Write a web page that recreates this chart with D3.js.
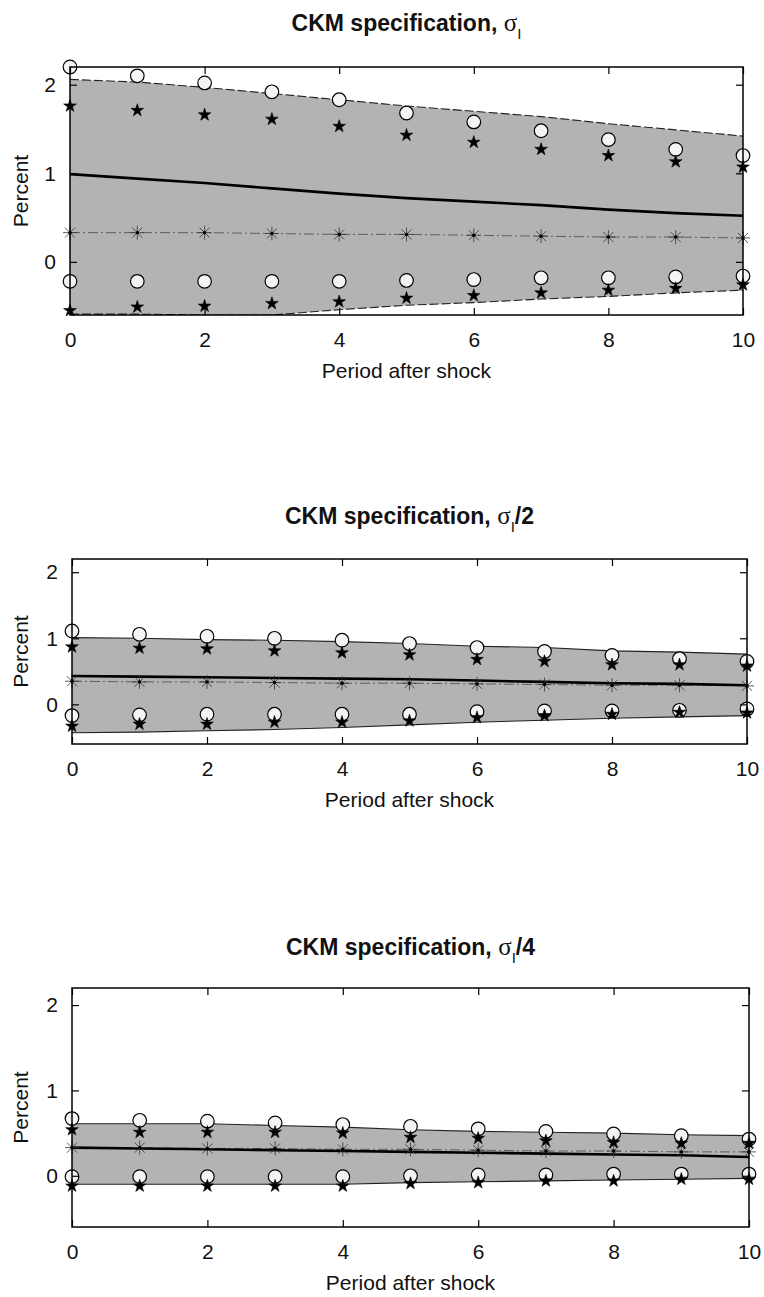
<!DOCTYPE html>
<html>
<head>
<meta charset="utf-8">
<script src="https://cdn.jsdelivr.net/npm/d3@7"></script>
<style>
  html, body { margin: 0; padding: 0; background: #fff; }
  svg { display: block; }
  text { font-family: "Liberation Sans", Arial, Helvetica, sans-serif; fill: #111; }
</style>
</head>
<body>
<svg id="chart" width="764" height="1297"></svg>
<script>
// Impulse responses (percent) over periods after the shock
const periods = [0, 1, 2, 3, 4, 5, 6, 7, 8, 9, 10];
const xTicks = [0, 2, 4, 6, 8, 10];
const yTicks = [0, 1, 2];
const yDomain = [-0.6, 2.2];

const titleSuffixes = ["", "/2", "/4"];

// sigma_I
const p1BandUpper   = [2.06, 2.03, 1.97, 1.90, 1.83, 1.76, 1.70, 1.64, 1.56, 1.49, 1.42];
const p1BandLower   = [-0.59, -0.59, -0.60, -0.60, -0.54, -0.49, -0.46, -0.42, -0.39, -0.35, -0.32];
const p1Mean        = [0.99, 0.94, 0.89, 0.83, 0.77, 0.72, 0.68, 0.64, 0.59, 0.55, 0.52];
const p1Asterisk    = [0.33, 0.33, 0.33, 0.32, 0.31, 0.31, 0.30, 0.29, 0.28, 0.28, 0.27];
const p1CircleUpper = [2.20, 2.10, 2.02, 1.92, 1.83, 1.68, 1.58, 1.48, 1.38, 1.27, 1.20];
const p1StarUpper   = [1.76, 1.71, 1.66, 1.61, 1.53, 1.43, 1.35, 1.27, 1.20, 1.13, 1.07];
const p1CircleLower = [-0.22, -0.22, -0.22, -0.22, -0.22, -0.21, -0.20, -0.18, -0.18, -0.17, -0.16];
const p1StarLower   = [-0.55, -0.51, -0.50, -0.47, -0.45, -0.41, -0.38, -0.35, -0.32, -0.30, -0.26];

// sigma_I / 2
const p2BandUpper   = [1.01, 1.00, 0.98, 0.97, 0.95, 0.92, 0.88, 0.86, 0.81, 0.79, 0.76];
const p2BandLower   = [-0.43, -0.42, -0.40, -0.38, -0.35, -0.31, -0.27, -0.24, -0.21, -0.19, -0.17];
const p2Mean        = [0.43, 0.42, 0.41, 0.40, 0.39, 0.38, 0.36, 0.34, 0.32, 0.31, 0.29];
const p2Asterisk    = [0.35, 0.34, 0.34, 0.33, 0.32, 0.32, 0.31, 0.30, 0.29, 0.29, 0.28];
const p2CircleUpper = [1.11, 1.06, 1.03, 1.00, 0.97, 0.92, 0.86, 0.80, 0.74, 0.69, 0.65];
const p2StarUpper   = [0.87, 0.85, 0.84, 0.81, 0.78, 0.75, 0.68, 0.65, 0.60, 0.60, 0.58];
const p2CircleLower = [-0.17, -0.16, -0.15, -0.15, -0.15, -0.15, -0.11, -0.10, -0.10, -0.09, -0.07];
const p2StarLower   = [-0.33, -0.30, -0.30, -0.27, -0.27, -0.25, -0.20, -0.17, -0.15, -0.12, -0.13];

// sigma_I / 4
const p3BandUpper   = [0.61, 0.61, 0.61, 0.59, 0.57, 0.54, 0.52, 0.51, 0.50, 0.48, 0.47];
const p3BandLower   = [-0.10, -0.10, -0.10, -0.10, -0.10, -0.08, -0.07, -0.06, -0.05, -0.04, -0.03];
const p3Mean        = [0.33, 0.32, 0.31, 0.30, 0.29, 0.28, 0.27, 0.26, 0.25, 0.24, 0.22];
const p3Asterisk    = [0.33, 0.33, 0.32, 0.32, 0.31, 0.31, 0.30, 0.29, 0.29, 0.28, 0.28];
const p3CircleUpper = [0.67, 0.65, 0.64, 0.62, 0.60, 0.58, 0.55, 0.52, 0.49, 0.47, 0.43];
const p3StarUpper   = [0.54, 0.51, 0.51, 0.51, 0.50, 0.45, 0.44, 0.41, 0.39, 0.38, 0.38];
const p3CircleLower = [-0.01, -0.01, -0.01, -0.01, -0.01, 0.00, 0.01, 0.01, 0.02, 0.02, 0.02];
const p3StarLower   = [-0.12, -0.12, -0.12, -0.12, -0.12, -0.09, -0.08, -0.06, -0.06, -0.04, -0.04];

const panels = [
  { frame: { left: 70, right: 743, top: 67,  bottom: 315 },  titleY: 31,  suffix: titleSuffixes[0], edgeDash: "9,3",
    bandUpper: p1BandUpper, bandLower: p1BandLower, mean: p1Mean, asterisk: p1Asterisk,
    circleUpper: p1CircleUpper, starUpper: p1StarUpper, circleLower: p1CircleLower, starLower: p1StarLower },
  { frame: { left: 72, right: 747, top: 559, bottom: 744 },  titleY: 524, suffix: titleSuffixes[1], edgeDash: null,
    bandUpper: p2BandUpper, bandLower: p2BandLower, mean: p2Mean, asterisk: p2Asterisk,
    circleUpper: p2CircleUpper, starUpper: p2StarUpper, circleLower: p2CircleLower, starLower: p2StarLower },
  { frame: { left: 72, right: 749, top: 988, bottom: 1227 }, titleY: 955, suffix: titleSuffixes[2], edgeDash: null,
    bandUpper: p3BandUpper, bandLower: p3BandLower, mean: p3Mean, asterisk: p3Asterisk,
    circleUpper: p3CircleUpper, starUpper: p3StarUpper, circleLower: p3CircleLower, starLower: p3StarLower }
];

const svg = d3.select("#chart");
const tickLen = 7;
const starSize = 50;   // d3.symbolStar area, outer radius ~6.7px
const circleR = 6.8;
const astR = 7;

panels.forEach((p, i) => {
  const f = p.frame;
  const x = d3.scaleLinear().domain([0, 10]).range([f.left, f.right]);
  const y = d3.scaleLinear().domain(yDomain).range([f.bottom, f.top]);
  const g = svg.append("g");

  const clipId = "clip" + i;
  svg.append("clipPath").attr("id", clipId)
    .append("rect").attr("x", f.left).attr("y", f.top)
    .attr("width", f.right - f.left).attr("height", f.bottom - f.top);

  const plot = g.append("g").attr("clip-path", `url(#${clipId})`);

  // shaded confidence band
  const area = d3.area()
    .x((d, j) => x(periods[j]))
    .y0((d, j) => y(p.bandLower[j]))
    .y1((d, j) => y(p.bandUpper[j]));
  plot.append("path").datum(periods).attr("d", area).attr("fill", "#b3b3b3");

  const edge = arr => d3.line().x((d, j) => x(periods[j])).y((d, j) => y(arr[j]))(periods);
  [p.bandUpper, p.bandLower].forEach(arr => {
    plot.append("path").attr("d", edge(arr))
      .attr("fill", "none").attr("stroke", "#222").attr("stroke-width", 1.1)
      .attr("stroke-dasharray", p.edgeDash);
  });

  // dash-dot line through the asterisk series
  plot.append("path").attr("d", edge(p.asterisk))
    .attr("fill", "none").attr("stroke", "#555").attr("stroke-width", 0.9)
    .attr("stroke-dasharray", "10,3,2,3");

  // mean response
  plot.append("path").attr("d", edge(p.mean))
    .attr("fill", "none").attr("stroke", "#000").attr("stroke-width", 2.6);

  // asterisk markers
  const astG = g.append("g");
  periods.forEach((t, j) => {
    const cx = x(t), cy = y(p.asterisk[j]);
    const a = astG.append("g").attr("transform", `translate(${cx},${cy})`);
    [[-astR, 0, astR, 0], [0, -astR, 0, astR],
     [-astR * 0.72, -astR * 0.72, astR * 0.72, astR * 0.72],
     [-astR * 0.72, astR * 0.72, astR * 0.72, -astR * 0.72]].forEach(s => {
      a.append("line").attr("x1", s[0]).attr("y1", s[1]).attr("x2", s[2]).attr("y2", s[3])
        .attr("stroke", "#333").attr("stroke-width", 0.8);
    });
    a.append("circle").attr("r", 1.7).attr("fill", "#000");
  });

  // open circles
  [p.circleUpper, p.circleLower].forEach(arr => {
    g.append("g").selectAll("circle").data(periods).join("circle")
      .attr("cx", t => x(t)).attr("cy", (t, j) => y(arr[j])).attr("r", circleR)
      .attr("fill", "#f4f4f4").attr("stroke", "#000").attr("stroke-width", 1.2);
  });

  // filled stars
  const star = d3.symbol().type(d3.symbolStar).size(starSize);
  [p.starUpper, p.starLower].forEach(arr => {
    g.append("g").selectAll("path").data(periods).join("path")
      .attr("transform", (t, j) => `translate(${x(t)},${y(arr[j])})`)
      .attr("d", star).attr("fill", "#000").attr("stroke", "#000").attr("stroke-width", 0.6);
  });

  // frame
  g.append("rect").attr("x", f.left).attr("y", f.top)
    .attr("width", f.right - f.left).attr("height", f.bottom - f.top)
    .attr("fill", "none").attr("stroke", "#000").attr("stroke-width", 1.5);

  // inward ticks on all four sides
  const axB = d3.axisBottom(x).tickValues(xTicks).tickSize(-tickLen).tickPadding(tickLen + 10).tickFormat(d3.format("d"));
  const axT = d3.axisTop(x).tickValues(xTicks).tickSize(-tickLen).tickFormat("");
  const axL = d3.axisLeft(y).tickValues(yTicks).tickSize(-tickLen).tickPadding(tickLen + 7).tickFormat(d3.format("d"));
  const axR = d3.axisRight(y).tickValues(yTicks).tickSize(-tickLen).tickFormat("");

  const styleAxis = sel => {
    sel.select(".domain").remove();
    sel.selectAll(".tick line").attr("stroke", "#000").attr("stroke-width", 1.2);
    sel.selectAll(".tick text").attr("font-size", 21).attr("fill", "#111")
      .attr("font-family", "Liberation Sans, Arial, sans-serif");
  };
  g.append("g").attr("transform", `translate(0,${f.bottom})`).call(axB).call(styleAxis);
  g.append("g").attr("transform", `translate(0,${f.top})`).call(axT).call(styleAxis);
  g.append("g").attr("transform", `translate(${f.left},0)`).call(axL).call(styleAxis);
  g.append("g").attr("transform", `translate(${f.right},0)`).call(axR).call(styleAxis);

  // axis titles
  g.append("text").attr("x", (f.left + f.right) / 2).attr("y", f.bottom + 63)
    .attr("text-anchor", "middle").attr("font-size", 21).text("Period after shock");
  g.append("text")
    .attr("transform", `translate(28,${(f.top + f.bottom) / 2}) rotate(-90)`)
    .attr("text-anchor", "middle").attr("font-size", 21).text("Percent");

  // panel title
  const title = g.append("text").attr("x", (f.left + f.right) / 2).attr("y", p.titleY)
    .attr("text-anchor", "middle").attr("font-size", 23);
  title.append("tspan").attr("font-weight", "bold").text("CKM specification, ");
  title.append("tspan").attr("font-family", "Liberation Serif, serif").attr("font-size", 25).text("σ");
  title.append("tspan").attr("font-size", 15).attr("dy", 8).text("I");
  if (p.suffix) {
    title.append("tspan").attr("font-weight", "bold").attr("dy", -8).text(p.suffix);
  }
});
</script>
</body>
</html>
